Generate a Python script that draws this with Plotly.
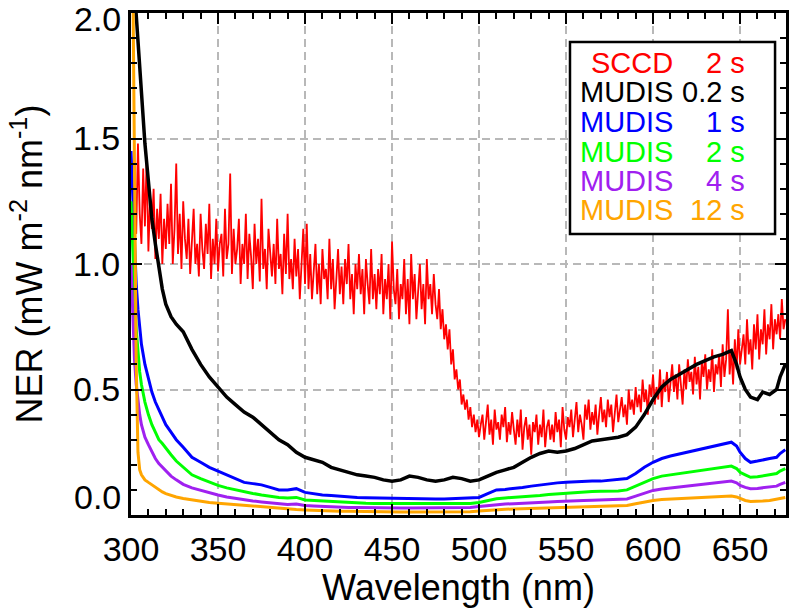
import plotly.graph_objects as go

# ---------------- data ----------------
wl_sccd = list(range(302, 677))
ner_sccd = [
    1.30, 1.12, 1.48, 1.20, 1.08, 1.38, 1.15, 1.42, 1.05, 1.26,
    1.14, 1.30, 1.02, 1.22, 1.10, 1.28, 1.00, 1.18, 1.06, 1.24,
    1.08, 1.32, 1.00, 1.14, 1.40, 1.04, 1.20, 0.98, 1.25, 1.10,
    1.02, 1.18, 0.96, 1.12, 1.22, 1.00, 1.08, 0.95, 1.20, 1.06,
    0.98, 1.16, 1.04, 1.24, 0.94, 1.10, 1.00, 1.18, 0.97, 1.08,
    1.12, 0.95, 1.22, 1.02, 1.08, 1.36, 0.96, 1.14, 1.00, 1.06,
    1.18, 0.92, 1.08, 1.00, 1.20, 0.94, 1.12, 1.03, 0.90, 1.16,
    1.00, 1.10, 0.93, 1.26, 0.98, 1.06, 0.90, 1.14, 1.02, 0.95,
    1.08, 0.92, 1.18, 0.98, 1.04, 0.88, 1.12, 0.96, 1.20, 0.94,
    1.02, 0.90, 1.10, 0.95, 1.06, 0.86, 1.00, 1.14, 0.92, 1.16,
    0.90, 1.04, 0.86, 0.98, 1.08, 0.88, 1.00, 0.84, 1.06, 0.94,
    0.98, 0.86, 1.10, 0.90, 1.02, 0.82, 0.96, 1.06, 0.88, 0.99,
    0.84, 1.02, 0.92, 1.08, 0.86, 0.96, 0.80, 1.00, 0.90, 1.04,
    0.88, 0.98, 0.80, 1.02, 0.92, 0.84, 1.06, 0.86, 0.96, 0.82,
    0.98, 0.88, 1.04, 0.80, 0.94, 0.86, 1.00, 0.78, 1.09, 0.90,
    0.84, 0.98, 0.78, 0.92, 0.86, 1.02, 0.80, 0.94, 0.76, 1.04,
    0.86, 0.96, 0.78, 0.90, 1.00, 0.82, 0.92, 0.76, 1.02, 0.86,
    0.92, 0.80, 0.96, 0.84, 0.78, 0.90, 0.74, 0.82, 0.70, 0.76,
    0.66, 0.74, 0.60, 0.66, 0.54, 0.58, 0.50, 0.54, 0.44, 0.48,
    0.42, 0.46, 0.38, 0.43, 0.35, 0.40, 0.33, 0.38, 0.31, 0.36,
    0.40, 0.30, 0.36, 0.44, 0.32, 0.38, 0.28, 0.42, 0.34, 0.37,
    0.30, 0.40, 0.35, 0.43, 0.29, 0.37, 0.32, 0.41, 0.34, 0.28,
    0.38, 0.31, 0.42, 0.26, 0.35, 0.39, 0.30, 0.36, 0.24, 0.37,
    0.33, 0.40, 0.28, 0.36, 0.31, 0.42, 0.27, 0.35, 0.38, 0.30,
    0.36, 0.29, 0.41, 0.33, 0.38, 0.27, 0.43, 0.34, 0.30, 0.39,
    0.35, 0.42, 0.31, 0.38, 0.45, 0.33, 0.40, 0.36, 0.30, 0.44,
    0.38, 0.46, 0.34, 0.41, 0.36, 0.44, 0.32, 0.40, 0.47, 0.37,
    0.42, 0.35, 0.46, 0.39, 0.44, 0.33, 0.41, 0.48, 0.37, 0.43,
    0.47, 0.39, 0.44, 0.36, 0.50, 0.42, 0.46, 0.40, 0.51, 0.43,
    0.48, 0.41, 0.54, 0.45, 0.50, 0.40, 0.52, 0.47, 0.56, 0.44,
    0.51, 0.46, 0.58, 0.43, 0.54, 0.49, 0.57, 0.45, 0.52, 0.60,
    0.49, 0.56, 0.46, 0.60, 0.52, 0.44, 0.58, 0.50, 0.62, 0.53,
    0.57, 0.48, 0.63, 0.52, 0.59, 0.46, 0.61, 0.55, 0.64, 0.50,
    0.58, 0.53, 0.66, 0.49, 0.60, 0.56, 0.64, 0.51, 0.68, 0.55,
    0.62, 0.82, 0.56, 0.66, 0.52, 0.70, 0.58, 0.74, 0.60, 0.66,
    0.72, 0.60, 0.78, 0.64, 0.70, 0.58, 0.76, 0.66, 0.80, 0.62,
    0.74, 0.68, 0.82, 0.64, 0.76, 0.70, 0.84, 0.66, 0.78, 0.72,
    0.80, 0.70, 0.86, 0.74, 0.78,
]

wl_mudis = [300, 301, 302, 303, 304, 305, 306, 308, 310, 312, 314, 316, 318, 320,
            323, 326, 330, 335, 340, 345, 350, 355, 360, 365, 370, 375, 380, 385,
            390, 395, 400, 405, 410, 415, 420, 425, 430, 435, 440, 445, 450, 455,
            460, 465, 470, 475, 480, 485, 490, 495, 500, 505, 510, 515, 520, 525,
            530, 535, 540, 545, 550, 555, 560, 565, 570, 575, 580, 585, 590, 595,
            600, 605, 610, 615, 620, 625, 630, 635, 640, 645, 648, 650, 653, 656,
            660, 663, 667, 671, 673, 676]

ner_mudis_02 = [2.30, 2.20, 2.10, 2.00, 1.85, 1.75, 1.67, 1.48, 1.33, 1.18, 1.08, 0.98, 0.90, 0.84,
                0.79, 0.76, 0.73, 0.66, 0.60, 0.55, 0.51, 0.47, 0.44, 0.41, 0.39, 0.36, 0.33, 0.30,
                0.28, 0.25, 0.23, 0.22, 0.21, 0.19, 0.18, 0.17, 0.16, 0.155, 0.15, 0.14, 0.135, 0.14,
                0.155, 0.15, 0.14, 0.135, 0.14, 0.15, 0.145, 0.135, 0.14, 0.155, 0.17, 0.18, 0.19, 0.21,
                0.23, 0.245, 0.255, 0.25, 0.255, 0.265, 0.28, 0.295, 0.30, 0.305, 0.31, 0.32, 0.35, 0.40,
                0.46, 0.51, 0.54, 0.56, 0.58, 0.60, 0.615, 0.63, 0.64, 0.655, 0.60, 0.55, 0.50, 0.47,
                0.46, 0.49, 0.48, 0.50, 0.55, 0.60]

ner_mudis_1 = [1.45, 1.25, 1.05, 0.92, 0.82, 0.74, 0.68, 0.60, 0.54, 0.49, 0.45, 0.42, 0.39, 0.36,
               0.33, 0.30, 0.27, 0.23, 0.21, 0.19, 0.175, 0.16, 0.145, 0.13, 0.125, 0.12, 0.11, 0.10,
               0.10, 0.105, 0.09, 0.085, 0.08, 0.078, 0.075, 0.072, 0.07, 0.069, 0.068, 0.067, 0.066, 0.066,
               0.064, 0.065, 0.064, 0.064, 0.064, 0.065, 0.066, 0.066, 0.07, 0.085, 0.10, 0.102, 0.105, 0.11,
               0.115, 0.12, 0.125, 0.128, 0.13, 0.132, 0.135, 0.135, 0.135, 0.138, 0.14, 0.145, 0.165, 0.19,
               0.21, 0.225, 0.235, 0.243, 0.25, 0.258, 0.265, 0.272, 0.28, 0.29, 0.275, 0.25, 0.225, 0.21,
               0.215, 0.22, 0.225, 0.23, 0.245, 0.26]

ner_mudis_2 = [1.25, 1.05, 0.88, 0.74, 0.64, 0.57, 0.52, 0.45, 0.40, 0.36, 0.33, 0.30, 0.285, 0.265,
               0.24, 0.215, 0.19, 0.16, 0.145, 0.13, 0.118, 0.108, 0.10, 0.092, 0.086, 0.08, 0.075, 0.07,
               0.068, 0.07, 0.06, 0.058, 0.055, 0.052, 0.05, 0.049, 0.048, 0.047, 0.046, 0.046, 0.045, 0.045,
               0.044, 0.044, 0.044, 0.044, 0.044, 0.045, 0.045, 0.046, 0.05, 0.058, 0.065, 0.068, 0.07, 0.072,
               0.075, 0.078, 0.082, 0.085, 0.088, 0.09, 0.092, 0.094, 0.095, 0.095, 0.096, 0.10, 0.115, 0.13,
               0.145, 0.155, 0.16, 0.165, 0.17, 0.175, 0.18, 0.185, 0.19, 0.195, 0.185, 0.17, 0.16, 0.15,
               0.152, 0.156, 0.16, 0.165, 0.175, 0.185]

ner_mudis_4 = [1.00, 0.78, 0.62, 0.52, 0.45, 0.40, 0.36, 0.31, 0.28, 0.25, 0.225, 0.205, 0.19, 0.175,
               0.155, 0.14, 0.122, 0.108, 0.098, 0.088, 0.08, 0.072, 0.066, 0.06, 0.056, 0.052, 0.048, 0.045,
               0.042, 0.044, 0.038, 0.036, 0.034, 0.032, 0.031, 0.030, 0.030, 0.029, 0.029, 0.028, 0.028, 0.028,
               0.028, 0.028, 0.028, 0.028, 0.028, 0.029, 0.029, 0.030, 0.034, 0.038, 0.042, 0.044, 0.045, 0.046,
               0.048, 0.050, 0.052, 0.054, 0.056, 0.057, 0.058, 0.059, 0.06, 0.06, 0.06, 0.064, 0.075, 0.088,
               0.098, 0.104, 0.108, 0.112, 0.115, 0.118, 0.122, 0.126, 0.13, 0.135, 0.128, 0.118, 0.11, 0.105,
               0.106, 0.108, 0.11, 0.115, 0.122, 0.13]

ner_mudis_12 = [2.50, 2.20, 1.40, 0.60, 0.25, 0.18, 0.16, 0.14, 0.13, 0.12, 0.11, 0.10, 0.092, 0.085,
                0.078, 0.072, 0.066, 0.06, 0.055, 0.05, 0.047, 0.044, 0.041, 0.038, 0.035, 0.032, 0.03, 0.027,
                0.024, 0.022, 0.02, 0.018, 0.017, 0.016, 0.015, 0.015, 0.014, 0.014, 0.013, 0.013, 0.012, 0.012,
                0.012, 0.012, 0.012, 0.012, 0.012, 0.012, 0.013, 0.013, 0.016, 0.019, 0.022, 0.023, 0.024, 0.025,
                0.026, 0.027, 0.028, 0.029, 0.03, 0.031, 0.032, 0.033, 0.034, 0.035, 0.036, 0.038, 0.045, 0.052,
                0.058, 0.062, 0.064, 0.065, 0.067, 0.068, 0.07, 0.072, 0.074, 0.076, 0.072, 0.066, 0.058, 0.054,
                0.054, 0.056, 0.058, 0.062, 0.066, 0.07]

legend_names = ["SCCD", "MUDIS", "MUDIS", "MUDIS", "MUDIS", "MUDIS"]
legend_times = ["2 s", "0.2 s", "1 s", "2 s", "4 s", "12 s"]
colors = ["#ff0000", "#000000", "#0000ff", "#00ff00", "#a020f0", "#ffa500"]
widths = [1.8, 3.5, 3, 3, 3, 3]

x_ticks = [300, 350, 400, 450, 500, 550, 600, 650]
y_ticks = [0.0, 0.5, 1.0, 1.5, 2.0]
y_ticktext = ["", "0.5", "1.0", "1.5", ""]

# ---------------- figure ----------------
W, H = 789, 608
ML, MR, MT, MB = 131, 0, 13, 93
PW, PH = W - ML - MR, H - MT - MB

def px(xp):
    return (xp - ML) / PW

def py(yp):
    return (H - MB - yp) / PH

FONT = "Liberation Sans, Arial, Helvetica, sans-serif"
TICK_SIZE = 34
TITLE_SIZE = 36
LEG_SIZE = 29

series_x = [wl_sccd, wl_mudis, wl_mudis, wl_mudis, wl_mudis, wl_mudis]
series_y = [ner_sccd, ner_mudis_02, ner_mudis_1, ner_mudis_2, ner_mudis_4, ner_mudis_12]

fig = go.Figure()
for xs, ys, c, w, n, t in zip(series_x, series_y, colors, widths, legend_names, legend_times):
    fig.add_trace(go.Scatter(x=xs, y=ys, mode="lines", line=dict(color=c, width=w),
                             name=f"{n} {t}", showlegend=False))

axis_common = dict(
    showline=True, linecolor="black", linewidth=3, mirror="ticks",
    ticks="inside", ticklen=11, tickwidth=2, tickcolor="black",
    showgrid=True, gridcolor="#b8b8b8", gridwidth=2, griddash="8px,5px",
    zeroline=False, tickfont=dict(family=FONT, size=TICK_SIZE, color="black"),
)

fig.update_xaxes(
    range=[300, 676.4], tickvals=x_ticks,
    minor=dict(dtick=10, tick0=300, ticks="inside", ticklen=6, tickwidth=2, tickcolor="black", showgrid=False),
    title=dict(text="Wavelength (nm)", font=dict(family=FONT, size=TITLE_SIZE, color="black"), standoff=6),
    ticklabelstandoff=2,
    **axis_common,
)
fig.update_yaxes(
    range=[0, 2.0], tickvals=y_ticks, ticktext=y_ticktext,
    minor=dict(dtick=0.1, tick0=0, ticks="inside", ticklen=6, tickwidth=2, tickcolor="black", showgrid=False),
    title=dict(text="NER (mW m<sup>-2</sup> nm<sup>-1</sup>)", font=dict(family=FONT, size=TITLE_SIZE, color="black"), standoff=20),
    ticklabelstandoff=1,
    **axis_common,
)

# shifted end labels of the y axis
for lab, yp in [("0.0", 497), ("2.0", 19)]:
    fig.add_annotation(x=px(123), y=py(yp), xref="paper", yref="paper", text=lab, showarrow=False,
                       xanchor="right", yanchor="middle", font=dict(family=FONT, size=TICK_SIZE, color="black"))

# legend box
fig.add_shape(type="rect", xref="paper", yref="paper", x0=px(572), x1=px(778), y0=py(234), y1=py(42),
              fillcolor="white", line=dict(color="black", width=2.5), layer="above")
row_y = [63, 92, 122, 152, 181, 210]
for n, t, c, yp in zip(legend_names, legend_times, colors, row_y):
    fig.add_annotation(x=px(677), y=py(yp), xref="paper", yref="paper", text=n, showarrow=False,
                       xanchor="right", yanchor="middle", font=dict(family=FONT, size=LEG_SIZE, color=c))
    fig.add_annotation(x=px(750), y=py(yp), xref="paper", yref="paper", text=t, showarrow=False,
                       xanchor="right", yanchor="middle", font=dict(family=FONT, size=LEG_SIZE, color=c))

fig.update_layout(
    width=W, height=H, margin=dict(l=ML, r=MR, t=MT, b=MB, pad=0),
    paper_bgcolor="white", plot_bgcolor="white", showlegend=False,
)

fig.write_html("out.html")
